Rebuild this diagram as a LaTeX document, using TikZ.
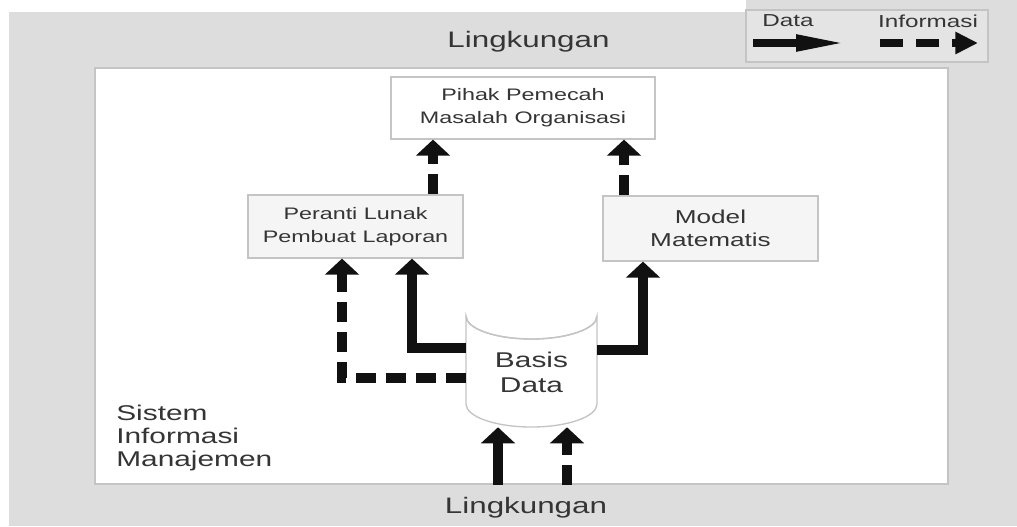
\documentclass[tikz,border=0pt]{standalone}
\usepackage{fontspec}
\setmainfont{Liberation Sans}[FakeStretch=1.4]
\usetikzlibrary{arrows.meta}
\definecolor{bggray}{HTML}{DDDDDD}
\definecolor{edgegray}{HTML}{C4C4C4}
\definecolor{ink}{HTML}{353535}
\definecolor{boxfill}{HTML}{F5F5F5}
\definecolor{arrowink}{HTML}{111111}

\begin{document}
\begin{tikzpicture}[x=0.75pt,y=-0.75pt,
  every node/.style={text=ink, inner sep=0pt},
  procbox/.style={draw=edgegray, line width=0.9pt, align=center},
  envtext/.style={font=\fontsize{16.8pt}{18pt}\selectfont, anchor=base},
  boxtext/.style={font=\fontsize{12.5pt}{17pt}\selectfont},
  data/.style={line width=7.5pt, draw=arrowink, line join=miter,
    -{Triangle[width=25pt,length=12pt]}},
  info/.style={data, dash pattern=on 15pt off 7.5pt},
]
\useasboundingbox (0,0) rectangle (1017,526);

% surroundings
\fill[bggray] (9,12) rectangle (1017,526);
\fill[bggray] (746,0) rectangle (1017,12);

% system boundary
\node[draw=edgegray, line width=1pt, fill=white,
      minimum width=639.75pt, minimum height=312pt] (sim) at (521.5,276) {};

% legend
\node[draw=edgegray, line width=1pt, fill=bggray!80!white,
      minimum width=181.5pt, minimum height=39pt] (legend) at (867,36) {};
\node[font=\fontsize{13pt}{14pt}\selectfont, anchor=base] (legdata) at (788,26) {Data};
\node[font=\fontsize{13pt}{14pt}\selectfont, anchor=base] (leginfo) at (928,27) {Informasi};
\coordinate (dA) at (753,43);
\coordinate (dB) at (848,43);
\coordinate (iA) at (880,43);
\coordinate (iB) at (978,43);
\draw[line width=6pt, draw=arrowink, -{Triangle[width=11.25pt,length=39pt]}] (dA) -- (dB);
\draw[line width=6pt, draw=arrowink, dash pattern=on 17pt off 10pt,
      -{Triangle[width=15.75pt,length=17pt]}] (iA) -- (iB);

% environment labels
\node[envtext] (envtop) at (528.5,47) {Lingkungan};
\node[envtext] (envbot) at (526,513) {Lingkungan};

% system label
\node[font=\fontsize{16pt}{17.25pt}\selectfont, align=left, anchor=west]
  (simlabel) at (116,437.5) {Sistem\\Informasi\\Manajemen};

% processing boxes
\node[procbox, fill=white, minimum width=198pt, minimum height=46.5pt, boxtext]
  (pihak) at (523,108) {Pihak Pemecah\\Masalah Organisasi};
\node[procbox, fill=boxfill, minimum width=161.25pt, minimum height=47.25pt, boxtext]
  (peranti) at (355.5,226.5) {Peranti Lunak\\Pembuat Laporan};
\node[procbox, fill=boxfill, minimum width=161.25pt, minimum height=48.75pt,
      font=\fontsize{14pt}{17.25pt}\selectfont]
  (model) at (710.5,228.5) {Model\\Matematis};

% database cylinder
\draw[draw=edgegray, line width=1pt, fill=white]
  (466,316) -- (466,404) arc[start angle=180, end angle=0, x radius=65.5, y radius=23]
  -- (597,316) arc[start angle=0, end angle=180, x radius=65.5, y radius=23] -- cycle;
\draw[draw=edgegray, line width=1pt]
  (466,316) arc[start angle=180, end angle=0, x radius=65.5, y radius=23];
\node[minimum width=98.25pt, minimum height=100.5pt] (db) at (531.5,360) {};
\node[font=\fontsize{16pt}{18.75pt}\selectfont, align=center] (dbtext) at (531.5,372) {Basis\\Data};

% column positions of the vertical flows
\coordinate (xa) at (433,0);
\coordinate (xb) at (624,0);
\coordinate (xc) at (412,0);
\coordinate (xd) at (342,0);
\coordinate (xe) at (643,0);
\coordinate (xf) at (498,0);
\coordinate (xg) at (567,0);
\coordinate (ya) at (0,348);
\coordinate (yb) at (0,378);
\coordinate (yc) at (0,350);

% flows
\draw[info] (peranti.north -| xa) -- (pihak.south -| xa);
\draw[info] (model.north -| xb) -- (pihak.south -| xb);
\draw[data] (db.west |- ya) -| (peranti.south -| xc);
\draw[info] (db.west |- yb) -| (peranti.south -| xd);
\draw[data] (db.east |- yc) -| (model.south -| xe);
\draw[data] (sim.south -| xf) -- (db.south -| xf);
\draw[info] (sim.south -| xg) -- (db.south -| xg);
\end{tikzpicture}
\end{document}
